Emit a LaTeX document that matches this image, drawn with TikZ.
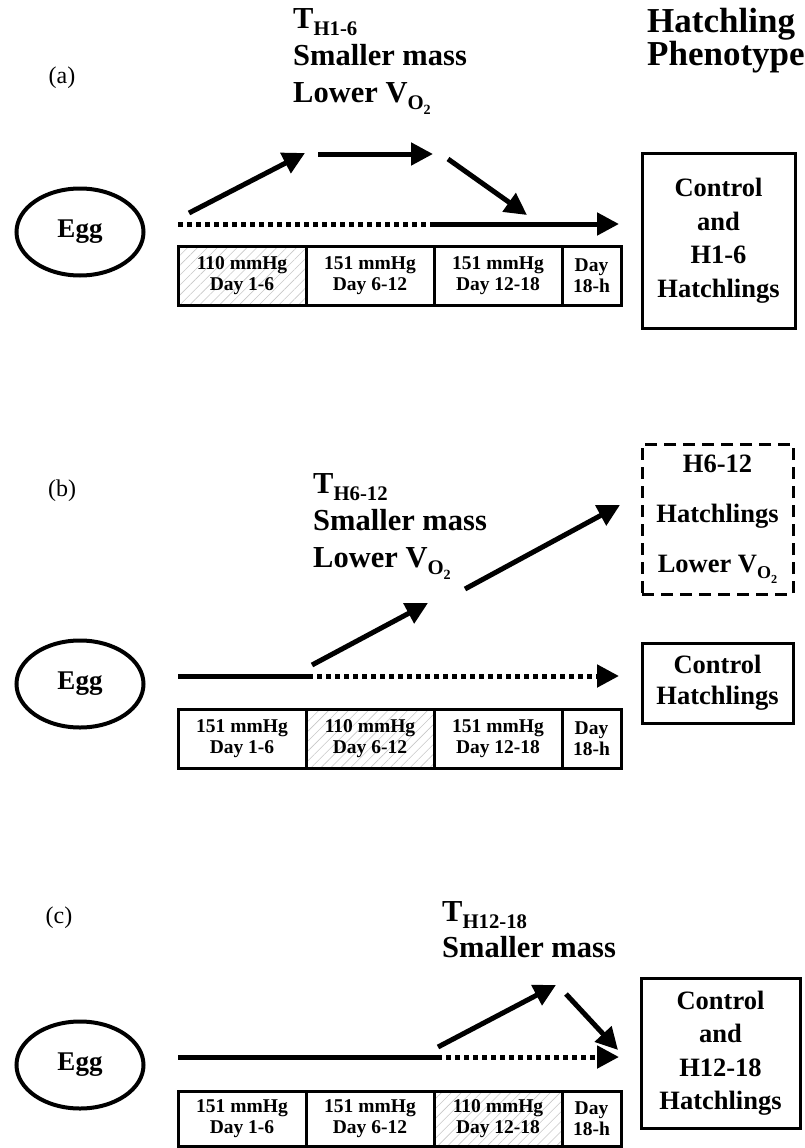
\documentclass[tikz,border=0pt]{standalone}
\usepackage{graphicx}
\usepackage{fontspec}
\setmainfont{Liberation Serif}
\usetikzlibrary{arrows.meta, positioning, shapes.geometric, patterns.meta}

% lowered, smaller subscript as printed in the figure
\newcommand{\lowsub}[1]{\raisebox{-0.25em}{\scalebox{0.68}{#1}}}

\tikzset{
    solidline/.style={line width=5pt},
    dotline/.style={line width=5pt, dash pattern=on 5pt off 4pt},
    tip/.style={-{Triangle[length=22pt, width=22pt]}},
    egg/.style={ellipse, draw, line width=4pt, minimum width=127pt, minimum height=87pt,
        font=\fontsize{27}{30}\selectfont\bfseries},
    cell/.style={draw, line width=3pt, minimum width=128pt, minimum height=59pt,
        inner sep=0pt, outer sep=0pt, align=center,
        font=\fontsize{19.5}{21.5}\selectfont\bfseries},
    daycell/.style={cell, minimum width=59pt},
    hypoxic/.style={pattern={Lines[angle=45, distance=7pt, line width=0.6pt]},
        pattern color=black!22},
    outcome/.style={draw, line width=3pt, align=center, inner sep=0pt,
        font=\fontsize{26.5}{33.5}\selectfont\bfseries},
    effect/.style={anchor=north west, align=left, inner sep=0pt,
        font=\fontsize{30.5}{37}\selectfont\bfseries},
    panel/.style={font=\fontsize{24}{28}\selectfont}
}

\begin{document}
\begin{tikzpicture}[x=1pt, y=-1pt]
    \useasboundingbox (0,0) rectangle (804,1148);

    % =========================================
    % 0. Column title
    % =========================================
    \node[anchor=north west, align=left, inner sep=0pt,
        font=\fontsize{35}{33}\selectfont\bfseries] (title) at (647,8) {Hatchling\\Phenotype};

    % =========================================
    % 1. Panel (a): hypoxia day 1-6
    % =========================================
    \node[panel] (la) at (62,78) {(a)};
    \node[effect] (ea) at (293,8) {T\lowsub{H1-6}\\Smaller mass\\Lower V\lowsub{O\lowsub{2}}};
    \node[egg] (egga) at (80,232) {Egg};

    % timeline cells
    \node[cell, hypoxic, anchor=north west] (a1) at (178,246) {110 mmHg\\Day 1-6};
    \node[cell, right=0pt of a1] (a2) {151 mmHg\\Day 6-12};
    \node[cell, right=0pt of a2] (a3) {151 mmHg\\Day 12-18};
    \node[daycell, right=0pt of a3] (a4) {Day\\18-h};

    \node[outcome, minimum width=153pt, minimum height=175pt] (ra) at (718.5,240.5)
        {Control\\and\\H1-6\\Hatchlings};

    % paths
    \coordinate (a-start) at (178,224);
    \coordinate (a-switch) at (430,224);
    \coordinate (a-end) at (619,224);
    \coordinate (a-up0) at (189,213);
    \coordinate (a-up1) at (305,153);
    \coordinate (a-top0) at (318,154);
    \coordinate (a-top1) at (433,154);
    \coordinate (a-dn0) at (448,159);
    \coordinate (a-dn1) at (527,215);
    \draw[dotline] (a-start) -- (a-switch);
    \draw[solidline, tip] (a-switch) -- (a-end);
    \draw[solidline, tip] (a-up0) -- (a-up1);
    \draw[solidline, tip] (a-top0) -- (a-top1);
    \draw[solidline, tip] (a-dn0) -- (a-dn1);

    % =========================================
    % 2. Panel (b): hypoxia day 6-12
    % =========================================
    \node[panel] (lb) at (62,491) {(b)};
    \node[effect] (eb) at (313,473) {T\lowsub{H6-12}\\Smaller mass\\Lower V\lowsub{O\lowsub{2}}};
    \node[egg] (eggb) at (80,684) {Egg};

    \node[cell, anchor=north west] (b1) at (178,709) {151 mmHg\\Day 1-6};
    \node[cell, hypoxic, right=0pt of b1] (b2) {110 mmHg\\Day 6-12};
    \node[cell, right=0pt of b2] (b3) {151 mmHg\\Day 12-18};
    \node[daycell, right=0pt of b3] (b4) {Day\\18-h};

    \node[outcome, dash pattern=on 12pt off 7pt, minimum width=151pt, minimum height=150pt,
        font=\fontsize{26.5}{50}\selectfont\bfseries] (rb1) at (717.5,519)
        {H6-12\\Hatchlings\\Lower V\lowsub{O\lowsub{2}}};
    \node[outcome, minimum width=151pt, minimum height=80pt,
        font=\fontsize{26.5}{31}\selectfont\bfseries] (rb2) at (717.5,683) {Control\\Hatchlings};

    \coordinate (b-start) at (178,676);
    \coordinate (b-switch) at (308,676);
    \coordinate (b-end) at (619,676);
    \coordinate (b-up0) at (312,665);
    \coordinate (b-up1) at (428,603);
    \coordinate (b-lg0) at (465,589);
    \coordinate (b-lg1) at (620,505);
    \draw[solidline] (b-start) -- (b-switch);
    \draw[dotline, tip] (b-switch) -- (b-end);
    \draw[solidline, tip] (b-up0) -- (b-up1);
    \draw[solidline, tip] (b-lg0) -- (b-lg1);

    % =========================================
    % 3. Panel (c): hypoxia day 12-18
    % =========================================
    \node[panel] (lc) at (59,918) {(c)};
    \node[effect, font=\fontsize{30.5}{36}\selectfont\bfseries] (ec) at (442,901)
        {T\lowsub{H12-18}\\Smaller mass};
    \node[egg] (eggc) at (80,1065) {Egg};

    \node[cell, anchor=north west, minimum height=55pt] (c1) at (178,1091) {151 mmHg\\Day 1-6};
    \node[cell, minimum height=55pt, right=0pt of c1] (c2) {151 mmHg\\Day 6-12};
    \node[cell, hypoxic, minimum height=55pt, right=0pt of c2] (c3) {110 mmHg\\Day 12-18};
    \node[daycell, minimum height=55pt, right=0pt of c3] (c4) {Day\\18-h};

    \node[outcome, minimum width=159pt, minimum height=150pt] (rc) at (720.5,1053)
        {Control\\and\\H12-18\\Hatchlings};

    \coordinate (c-start) at (178,1057);
    \coordinate (c-switch) at (437,1057);
    \coordinate (c-end) at (619,1057);
    \coordinate (c-up0) at (438,1047);
    \coordinate (c-up1) at (556,985);
    \coordinate (c-dn0) at (566,994);
    \coordinate (c-dn1) at (618,1050);
    \draw[solidline] (c-start) -- (c-switch);
    \draw[dotline, tip] (c-switch) -- (c-end);
    \draw[solidline, tip] (c-up0) -- (c-up1);
    \draw[solidline, tip] (c-dn0) -- (c-dn1);

\end{tikzpicture}
\end{document}
